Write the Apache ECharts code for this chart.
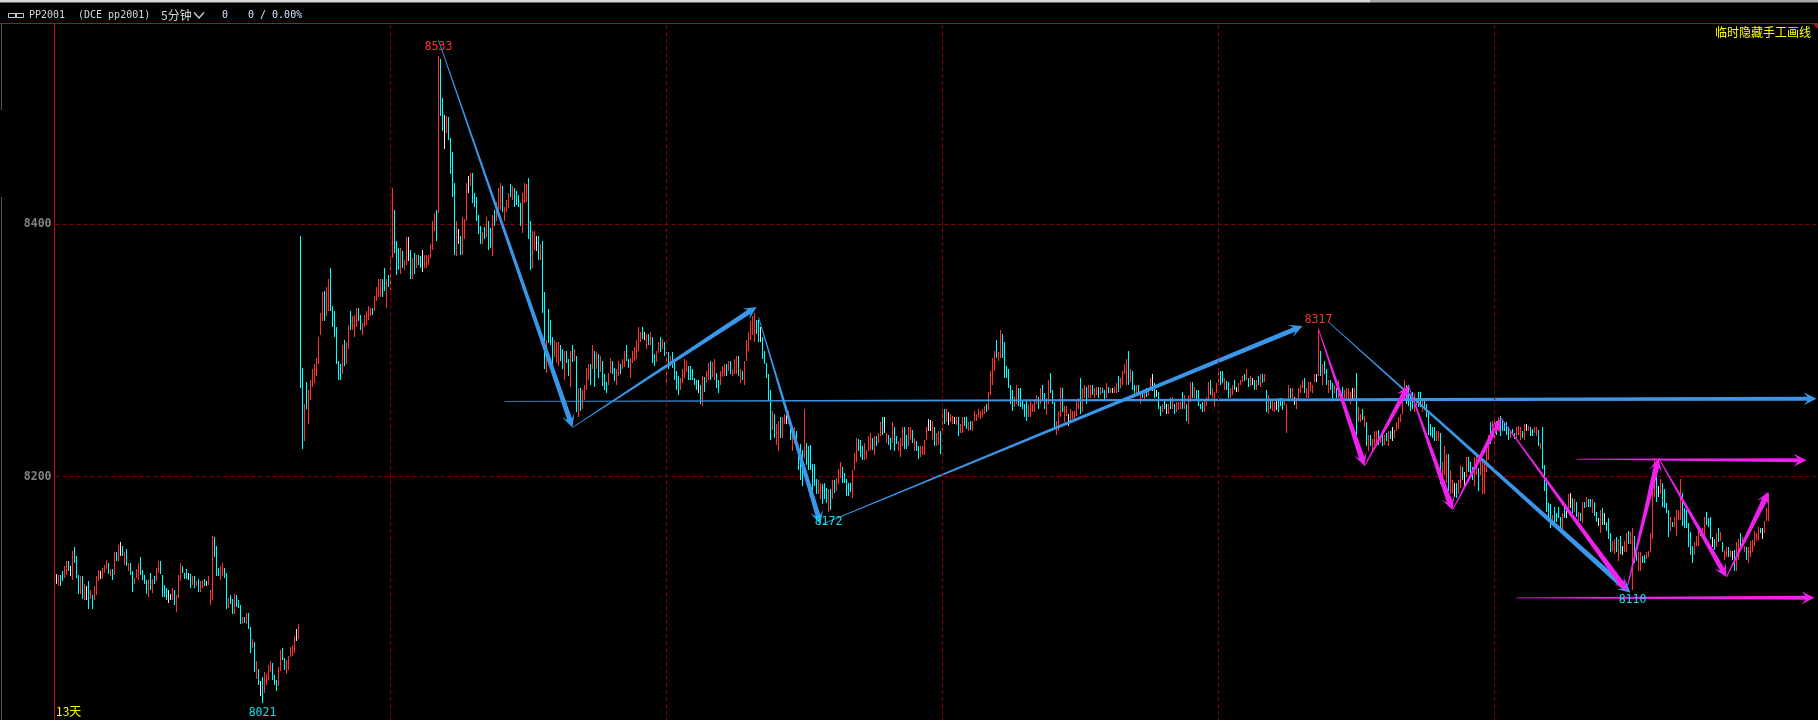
<!DOCTYPE html>
<html>
<head>
<meta charset="utf-8">
<style>html,body{margin:0;padding:0;background:#000;overflow:hidden}#c{width:1818px;height:720px}</style>
<script src="https://cdn.jsdelivr.net/npm/echarts@6/dist/echarts.min.js"></script>
</head>
<body>
<div id="c"></div>
<script>
const highs = [
8123,8122,8122,8125,8129,8133,8133,8129,8141,8144,
8137,8122,8121,8121,8115,8113,8117,8110,8106,8113,
8121,8126,8125,8128,8130,8134,8132,8127,8127,8140,
8140,8146,8148,8145,8140,8143,8132,8132,8125,8120,
8127,8132,8136,8126,8122,8118,8119,8124,8119,8121,
8128,8133,8133,8122,8114,8112,8110,8107,8112,8110,
8106,8122,8132,8129,8124,8127,8124,8123,8121,8121,
8117,8119,8117,8118,8119,8117,8121,8110,8153,8152,
8145,8128,8129,8132,8128,8124,8104,8106,8103,8107,
8106,8102,8098,8089,8089,8092,8092,8081,8071,8069,
8054,8048,8038,8041,8045,8044,8051,8054,8052,8043,
8039,8049,8063,8064,8056,8055,8058,8065,8067,8074,8079,8083,
8391,8286,8258,8275,8269,8277,8285,8289,8294,8311,
8330,8346,8347,8350,8357,8365,8335,8331,8319,8292,
8289,8304,8308,8307,8320,8331,8327,8328,8334,8334,
8328,8322,8328,8331,8335,8334,8334,8343,8350,8357,
8357,8357,8365,8357,8360,8372,8429,8411,8387,8381,
8381,8379,8372,8390,8390,8380,8373,8377,8376,8376,
8375,8380,8376,8376,8376,8384,8403,8409,8411,8533,
8531,8500,8487,8486,8485,8468,8457,8433,8403,8396,
8391,8406,8404,8433,8438,8441,8441,8425,8422,8407,
8399,8394,8398,8406,8403,8397,8407,8411,8418,8429,
8433,8430,8414,8419,8425,8432,8430,8429,8426,8423,
8417,8425,8433,8432,8437,8403,8395,8395,8391,8391,
8384,8387,8346,8308,8333,8324,8311,8308,8307,8307,
8304,8301,8300,8300,8293,8300,8304,8301,8296,8270,
8270,8269,8273,8286,8289,8289,8304,8300,8299,8297,
8296,8292,8281,8275,8282,8294,8292,8286,8285,8292,
8289,8293,8300,8304,8293,8294,8300,8303,8308,8319,
8315,8319,8315,8313,8313,8315,8311,8297,8300,8307,
8311,8309,8307,8299,8299,8296,8299,8292,8284,8280,
8278,8285,8293,8292,8288,8288,8285,8278,8277,8277,
8273,8280,8279,8284,8290,8292,8291,8293,8282,8277,
8284,8288,8289,8289,8292,8292,8285,8293,8296,8296,
8285,8284,8292,8308,8315,8323,8327,8330,8324,8324,
8319,8311,8300,8290,8281,8269,8252,8250,8242,8244,
8247,8247,8250,8249,8252,8245,8239,8239,8236,8221,
8226,8221,8254,8227,8224,8225,8210,8210,8198,8197,
8195,8194,8195,8191,8190,8190,8197,8197,8199,8206,
8212,8208,8203,8198,8195,8195,8205,8219,8231,8230,
8229,8224,8227,8221,8232,8235,8231,8232,8232,8235,
8243,8247,8247,8235,8233,8231,8243,8239,8232,8228,
8231,8239,8239,8233,8239,8239,8237,8231,8228,8224,
8224,8224,8229,8239,8246,8245,8244,8239,8235,8236,
8236,8254,8254,8254,8251,8250,8248,8247,8247,8247,
8242,8247,8247,8247,8243,8244,8244,8252,8250,8254,
8252,8254,8256,8258,8267,8284,8294,8300,8308,8299,
8316,8313,8307,8288,8285,8273,8269,8263,8273,8270,
8270,8260,8258,8261,8258,8260,8258,8261,8265,8263,
8270,8273,8266,8262,8277,8282,8269,8259,8244,8252,
8271,8270,8256,8256,8250,8254,8252,8252,8260,8262,
8278,8270,8273,8271,8273,8273,8273,8270,8271,8271,
8271,8270,8269,8274,8271,8270,8270,8271,8274,8280,
8278,8284,8289,8293,8300,8285,8284,8273,8273,8273,
8266,8267,8269,8270,8269,8278,8281,8274,8269,8267,
8256,8258,8261,8258,8258,8262,8263,8258,8259,8259,
8259,8267,8265,8258,8265,8275,8275,8271,8269,8269,
8258,8259,8261,8263,8275,8277,8270,8267,8274,8285,
8284,8284,8278,8276,8275,8270,8273,8277,8271,8274,
8277,8280,8281,8285,8278,8280,8278,8277,8277,8280,
8281,8281,8281,8269,8265,8261,8260,8259,8260,8262,
8262,8262,8261,8258,8273,8270,8270,8263,8262,8270,
8273,8277,8278,8270,8275,8275,8273,8281,8281,8317,
8300,8289,8292,8285,8277,8277,8274,8273,8270,8277,
8268,8271,8269,8270,8270,8267,8270,8270,8282,8255,
8250,8254,8248,8243,8233,8233,8230,8236,8236,8237,
8233,8234,8233,8235,8236,8236,8239,8237,8243,8247,
8250,8264,8277,8273,8273,8264,8267,8266,8262,8267,
8267,8262,8262,8258,8251,8242,8239,8239,8236,8236,
8235,8212,8224,8218,8218,8205,8197,8195,8195,8197,
8209,8208,8204,8216,8216,8212,8208,8216,8218,8207,
8218,8215,8210,8221,8233,8243,8244,8247,8244,8247,
8248,8246,8243,8243,8239,8236,8238,8235,8239,8240,
8239,8236,8242,8242,8240,8239,8238,8239,8239,8237,
8227,8239,8209,8199,8179,8178,8170,8176,8171,8176,
8168,8171,8177,8174,8186,8187,8183,8182,8180,8172,
8171,8180,8180,8184,8182,8182,8182,8180,8172,8167,
8174,8175,8171,8164,8167,8155,8149,8151,8152,8151,
8153,8145,8149,8155,8157,8156,8159,8153,8144,8140,
8140,8137,8138,8140,8141,8155,8189,8215,8201,8193,
8198,8195,8190,8179,8174,8168,8164,8168,8174,8174,
8198,8187,8175,8174,8163,8156,8145,8148,8153,8158,
8159,8159,8168,8172,8167,8168,8152,8151,8155,8159,
8156,8148,8142,8144,8144,8142,8141,8142,8148,8151,
8155,8152,8145,8144,8144,8149,8150,8157,8155,8160,
8159,8159,8165,8175,8186];
const lows = [
8115,8113,8113,8117,8120,8122,8125,8121,8118,8132,
8120,8107,8107,8103,8102,8102,8095,8103,8095,8102,
8106,8117,8119,8119,8124,8127,8123,8121,8118,8122,
8133,8133,8137,8137,8130,8129,8125,8122,8109,8115,
8120,8118,8122,8118,8115,8107,8105,8110,8108,8115,
8117,8124,8123,8105,8105,8102,8100,8102,8102,8098,
8093,8104,8117,8124,8119,8119,8118,8112,8114,8112,
8113,8109,8109,8112,8113,8113,8114,8098,8102,8136,
8121,8121,8118,8121,8120,8095,8096,8099,8091,8091,
8097,8096,8083,8083,8084,8083,8079,8060,8064,8045,
8040,8035,8026,8021,8029,8035,8039,8045,8039,8035,
8030,8034,8046,8055,8047,8044,8047,8057,8058,8060,8070,8071,
8270,8222,8228,8254,8242,8261,8271,8274,8280,8289,
8312,8323,8323,8327,8331,8331,8319,8311,8289,8277,
8277,8281,8288,8289,8301,8316,8316,8311,8319,8323,
8316,8312,8319,8320,8324,8327,8328,8331,8339,8342,
8342,8342,8347,8334,8350,8348,8373,8377,8360,8364,
8361,8365,8364,8368,8371,8357,8357,8361,8365,8368,
8365,8362,8365,8365,8368,8373,8380,8395,8387,8409,
8486,8474,8460,8472,8467,8440,8422,8376,8375,8384,
8376,8376,8388,8403,8425,8430,8417,8414,8403,8392,
8384,8384,8388,8390,8380,8381,8375,8399,8403,8407,
8411,8410,8403,8410,8413,8422,8419,8414,8415,8414,
8399,8393,8417,8418,8388,8364,8365,8380,8379,8372,
8372,8330,8285,8282,8306,8304,8281,8295,8290,8288,
8292,8285,8277,8290,8280,8271,8291,8292,8251,8247,
8252,8254,8261,8269,8277,8273,8285,8271,8285,8278,
8283,8272,8269,8266,8273,8282,8281,8276,8273,8280,
8281,8285,8287,8292,8286,8278,8290,8292,8293,8300,
8307,8309,8308,8301,8304,8304,8290,8288,8291,8298,
8299,8301,8296,8273,8285,8288,8286,8277,8269,8265,
8269,8274,8278,8283,8277,8277,8277,8273,8269,8266,
8258,8256,8267,8274,8277,8277,8279,8277,8270,8266,
8273,8279,8280,8280,8284,8281,8280,8281,8281,8280,
8274,8277,8273,8292,8300,8308,8312,8307,8313,8307,
8307,8293,8289,8278,8260,8229,8237,8231,8225,8220,
8231,8231,8242,8242,8242,8229,8220,8226,8221,8205,
8197,8193,8214,8209,8205,8205,8186,8193,8186,8186,
8182,8178,8182,8179,8172,8174,8182,8187,8189,8194,
8199,8195,8195,8185,8185,8188,8183,8205,8212,8220,
8216,8213,8213,8214,8220,8221,8221,8217,8224,8227,
8232,8233,8235,8227,8225,8221,8227,8220,8226,8220,
8216,8224,8222,8222,8224,8229,8227,8220,8220,8214,
8216,8217,8217,8229,8236,8236,8229,8224,8224,8225,
8218,8233,8242,8243,8241,8243,8242,8242,8241,8232,
8235,8235,8240,8238,8236,8237,8236,8244,8244,8247,
8246,8247,8250,8251,8253,8265,8273,8284,8294,8292,
8294,8294,8278,8278,8270,8258,8252,8255,8258,8256,
8255,8254,8247,8244,8247,8247,8251,8251,8258,8254,
8258,8260,8254,8249,8258,8266,8258,8237,8233,8236,
8247,8251,8243,8248,8240,8244,8246,8246,8248,8254,
8250,8251,8262,8258,8262,8262,8265,8262,8265,8262,
8265,8266,8261,8262,8266,8266,8266,8266,8266,8267,
8270,8273,8281,8273,8273,8275,8269,8266,8266,8265,
8258,8262,8261,8263,8264,8270,8268,8262,8263,8254,
8248,8251,8254,8250,8250,8254,8254,8250,8251,8253,
8254,8254,8254,8244,8242,8259,8262,8262,8260,8256,
8254,8251,8251,8256,8261,8265,8262,8255,8266,8274,
8273,8274,8269,8269,8262,8262,8265,8269,8267,8267,
8273,8275,8276,8277,8271,8272,8273,8269,8269,8273,
8271,8274,8275,8251,8250,8254,8252,8251,8253,8251,
8256,8253,8257,8235,8261,8262,8261,8257,8254,8261,
8266,8270,8266,8262,8262,8268,8266,8275,8275,8280,
8280,8273,8281,8273,8266,8269,8262,8266,8262,8262,
8261,8261,8262,8262,8261,8258,8261,8262,8233,8243,
8243,8245,8239,8224,8220,8224,8220,8225,8226,8225,
8227,8224,8225,8228,8224,8230,8228,8231,8236,8238,
8243,8250,8261,8258,8256,8252,8254,8251,8256,8255,
8255,8251,8253,8247,8233,8232,8231,8228,8228,8228,
8194,8194,8201,8195,8189,8186,8187,8184,8183,8186,
8191,8197,8193,8200,8204,8202,8197,8193,8201,8189,
8201,8186,8186,8204,8213,8226,8233,8226,8233,8236,
8232,8236,8236,8233,8229,8231,8233,8230,8231,8233,
8229,8231,8229,8236,8236,8232,8232,8235,8232,8224,
8222,8206,8189,8172,8165,8159,8164,8163,8164,8167,
8159,8158,8167,8167,8171,8175,8171,8172,8168,8165,
8165,8163,8175,8176,8176,8176,8171,8169,8164,8161,
8155,8162,8162,8157,8151,8140,8141,8139,8140,8133,
8139,8138,8140,8140,8147,8147,8110,8132,8133,8125,
8125,8132,8132,8135,8136,8140,8151,8184,8180,8184,
8186,8176,8175,8171,8152,8157,8160,8160,8153,8166,
8166,8161,8159,8159,8144,8138,8132,8138,8145,8145,
8153,8153,8153,8162,8160,8151,8144,8142,8144,8148,
8149,8140,8134,8136,8136,8136,8134,8125,8125,8134,
8143,8144,8140,8134,8132,8136,8140,8145,8149,8150,
8155,8151,8155,8165,8165];
const tones =
"wrccrrcwrc"+"ccrcrwcrcr"+"rrwrrrcrcr"+"crwcrcrccr"+"rrccccrcrc"+"rrccccwwrc"+"rrrcccwcrc"+"rcrrcwrrrc"+"ccrrccrccr"+"cccrcrccrc"+"rcwcrrrrcc"+"crrccrrrrrwr"+
"ccrcrrrrrr"+"rrcrrccccc"+"crcrrcrrrc"+"crrrrrcrrr"+"rccrcrrccc"+"rcrrwcrcrc"+"cwrrrrrrcr"+"ccwrccccrw"+"crrrwrcccc"+"crcrccrcrr"+"rcrrrcrccc"+"crrrccrrwc"+
"rccrcccrrr"+"ccrccrcrcr"+"crrrrcrcrc"+"rcccrrccrr"+"crrccrrrrr"+"rcwrcrccrr"+"crcrcrcccc"+"rrrrcccccw"+"crcrrcrrcc"+"rrrcrcrrrc"+"rcrrrrrrcc"+"wcccccrcrr"+
"crrwrcrrcc"+"ccrccccccr"+"rcccrcrcrr"+"rcccccrrrc"+"ccrrrrcrcr"+"rcwrccrccr"+"rrccrrcrcc"+"rrrrwwrcrr"+"crcrwrrwrc"+"rrccrcrrrr"+"rrrcrrrrcr"+"rccccccrrc"+
"ccccrrrrrc"+"rccrrcccrr"+"rcrrwrrrrr"+"crrcrrcrrc"+"rccrcrwrrc"+"rrrrcrccrc"+"rcrcrrwcwc"+"crcwrcrcrr"+"rcrcrrcrcc"+"ccrrrcrrrr"+"ccrccrrcwr"+"rrcrcrwcrc"+
"rcrcrcrrwc"+"ccrrrcrwrr"+"rrcrrrrrwr"+"crccrccrcr"+"ccrrrrwrcr"+"rcrcrcrrrc"+"rcrcrcwrrr"+"rrrccccrrc"+"crccccccrr"+"crrrcrrwcr"+"rcwrcccrrc"+"rrrrrcrrcr"+
"cccccrccrr"+"rcrwrccrrc"+"rcccccrccc"+"crcwrwcrcr"+"crcrccrccw"+"rcwcccrrcr"+"cwrrcrrccr"+"rccrrrrrcw"+"rccccrcrrr"+"rccccccrrr"+"crrcccwcrc"+"rcrrcrwcrr"+"crrcrrrrrr"+"cwrrr";

const barSlots = 881;
const yMin = 8000, yMax = 8600, yStep = 200;
const dayLineBars = [167, 305, 443, 581, 719];
// [from bar, from price, to bar, to price, thickness]
const blueArrows = [
 [191,8546,258,8239,5],[258,8239,350,8334.5,5],[351,8326.5,382,8162.5,5],
 [383,8162.5,623,8319.4,5],[636,8322.6,787,8108,5.5],[224,8259.7,880,8261.7,4]
];
const magentaArrows = [
 [631,8317,654,8208.5,5.5],[654,8208.5,676,8272,5],[676,8272,698,8173.6,5.5],
 [698,8173.6,722,8245.7,5],[722,8247,785,8110,5.5],[785,8110,801,8214.6,5.5],
 [801,8215,835,8120.5,5],[835,8120.5,856,8188,5.5],[760,8214,875,8213,4],[730,8104,879,8104,4]
];
// [bar, price, text, "high" or "low"]
const extremes = [
 [191,8533,"8533","high"],[631,8317,"8317","high"],
 [103,8021,"8021","low"],[386,8172,"8172","low"],[788,8110,"8110","low"]
];

const toneColors = {r: "#ff3232", c: "#00ffff", w: "#e8e8e8"};
const GRID_RED = "#8f0000", FRAME_RED = "#b80f0f";
const MONO = '"DejaVu Sans Mono","Liberation Mono",monospace';

const cats = Array.from({length: barSlots}, (_, i) => i);
const barRows = highs.map((h, i) => [i, h, lows[i]]);

function arrowItem(color) {
  return function (params, api) {
    const a = api.coord([api.value(0), api.value(1)]);
    const b = api.coord([api.value(2), api.value(3)]);
    const w = api.value(4);
    const dx = b[0] - a[0], dy = b[1] - a[1], len = Math.hypot(dx, dy);
    const ux = dx / len, uy = dy / len, nx = -uy, ny = ux;
    const at = (d, s) => [b[0] - ux * d + nx * s, b[1] - uy * d + ny * s];
    const start = (s) => [a[0] + nx * s, a[1] + ny * s];
    const pts = [start(0.4), at(9, w / 2), at(13, 6.5), b, at(13, -6.5), at(9, -w / 2), start(-0.4)];
    return {type: "polygon", shape: {points: pts}, style: {fill: color}};
  };
}

const chart = echarts.init(document.getElementById("c"), null, {width: 1818, height: 720});
chart.setOption({
  animation: false,
  backgroundColor: "#000",
  grid: {left: 55.5, right: 0.5, top: -28.1, bottom: -9.1, containLabel: false, outerBoundsMode: "none"},
  xAxis: {
    type: "category", data: cats, boundaryGap: true,
    axisLine: {show: false}, axisTick: {show: false}, axisLabel: {show: false}, splitLine: {show: false}
  },
  yAxis: {
    type: "value", min: yMin, max: yMax, interval: yStep, scale: true, offset: 1,
    axisLine: {show: true, lineStyle: {color: FRAME_RED, width: 1}},
    axisTick: {show: false},
    axisLabel: {color: "#808080", fontFamily: MONO, fontSize: 11.5, fontWeight: "bold", margin: 3, formatter: (v) => String(v)},
    splitLine: {show: true, lineStyle: {color: GRID_RED, width: 1, type: [4, 3]}}
  },
  series: [
    {
      type: "line", data: [], z: 1, silent: true,
      markLine: {
        silent: true, symbol: "none", animation: false, label: {show: false},
        lineStyle: {color: GRID_RED, width: 1, type: [4, 3]},
        data: dayLineBars.map(b => ({xAxis: b}))
      }
    },
    {
      type: "custom", z: 2, silent: true, data: barRows,
      encode: {x: 0, y: [1, 2]},
      renderItem: function (params, api) {
        const top = api.coord([api.value(0), api.value(1)]);
        const bot = api.coord([api.value(0), api.value(2)]);
        return {type: "rect",
          shape: {x: Math.floor(top[0]), y: Math.round(top[1]), width: 1, height: Math.max(1, Math.round(bot[1]) - Math.round(top[1]))},
          style: {fill: toneColors[tones[params.dataIndex]]}};
      }
    },
    {
      type: "custom", z: 3, silent: true, clip: false, data: blueArrows,
      encode: {x: [0, 2], y: [1, 3]}, renderItem: arrowItem("#3a96e8")
    },
    {
      type: "custom", z: 4, silent: true, clip: false, data: magentaArrows,
      encode: {x: [0, 2], y: [1, 3]}, renderItem: arrowItem("#f020ee")
    },
    {
      type: "custom", z: 5, silent: true, clip: false, data: extremes.map(e => [e[0], e[1]]),
      encode: {x: 0, y: 1},
      renderItem: function (params, api) {
        const p = api.coord([api.value(0), api.value(1)]);
        const e = extremes[params.dataIndex];
        const high = e[3] === "high";
        return {type: "text", style: {
          x: p[0], y: p[1] + (high ? -9.5 : 10), text: e[2], align: "center", verticalAlign: "middle",
          fill: high ? "#ff3232" : "#10e0e8", font: "11.5px " + MONO
        }};
      }
    }
  ],
  graphic: [
    {type: "rect", z: 100, shape: {x: 0, y: 0, width: 1818, height: 23.5}, style: {fill: "#000"}},
    {type: "rect", z: 101, shape: {x: 0, y: 0, width: 1370, height: 2.5}, style: {fill: "#d8d8d8"}},
    {type: "rect", z: 101, shape: {x: 1370, y: 0, width: 448, height: 2.5}, style: {fill: "#a8a8a8"}},
    {type: "rect", z: 101, shape: {x: 0, y: 23, width: 1818, height: 1}, style: {fill: FRAME_RED}},
    {type: "polygon", z: 101, shape: {points: [[1812, 23], [1818, 23], [1818, 29]]}, style: {fill: FRAME_RED}},
    {type: "rect", z: 101, shape: {x: 1, y: 23, width: 1, height: 87}, style: {fill: "#555"}},
    {type: "rect", z: 101, shape: {x: 1, y: 197, width: 1, height: 523}, style: {fill: "#555"}},
    {type: "rect", z: 102, shape: {x: 8.5, y: 13.5, width: 8, height: 4}, style: {stroke: "#c8c8c8", lineWidth: 1, fill: "none"}},
    {type: "rect", z: 102, shape: {x: 15.5, y: 13.5, width: 8, height: 4}, style: {stroke: "#c8c8c8", lineWidth: 1, fill: "none"}},
    {type: "text", z: 102, style: {x: 29, y: 15.5, text: "PP2001", fill: "#d8d8d8", font: "10px " + MONO, verticalAlign: "middle"}},
    {type: "text", z: 102, style: {x: 78, y: 15.5, text: "(DCE pp2001)", fill: "#d8d8d8", font: "10px " + MONO, verticalAlign: "middle"}},
    {type: "text", z: 102, style: {x: 161, y: 15.5, text: "5分钟", fill: "#d8d8d8", font: '12px "Noto Sans CJK SC"', verticalAlign: "middle"}},
    {type: "polyline", z: 102, shape: {points: [[194, 12.5], [199, 18], [204, 12.5]]}, style: {stroke: "#d8d8d8", lineWidth: 1.2, fill: "none"}},
    {type: "text", z: 102, style: {x: 222, y: 15.5, text: "0", fill: "#d0e4ff", font: "10px " + MONO, verticalAlign: "middle"}},
    {type: "text", z: 102, style: {x: 248, y: 15.5, text: "0 / 0.00%", fill: "#d0e4ff", font: "10px " + MONO, verticalAlign: "middle"}},
    {type: "text", z: 102, style: {x: 1811, y: 32, text: "临时隐藏手工画线", align: "right", fill: "#ffff00", font: '12px "Noto Sans CJK SC"', verticalAlign: "middle"}},
    {type: "text", z: 102, style: {x: 56, y: 711, text: "13天", fill: "#ffff00", font: '12px "Noto Sans CJK SC"', verticalAlign: "middle"}}
  ]
});
</script>
</body>
</html>
